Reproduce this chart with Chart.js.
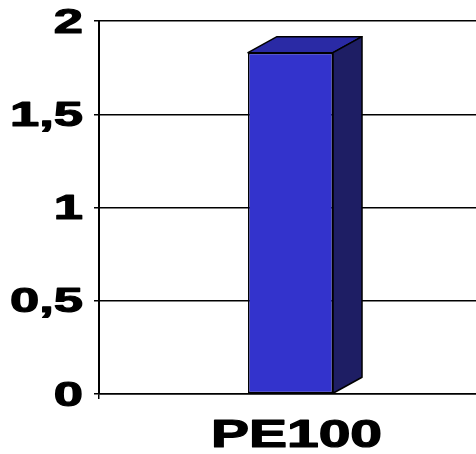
<!DOCTYPE html>
<html>
<head>
<meta charset="utf-8">
<script src="https://cdn.jsdelivr.net/npm/chart.js@4/dist/chart.umd.min.js"></script>
<style>
  html, body { margin: 0; padding: 0; background: #fff; overflow: hidden; }
  #wrap { width: 482px; height: 454px; position: relative; }
</style>
</head>
<body>
<div id="wrap"><canvas id="c"></canvas></div>
<script>
// Chart data
const categories = ['PE100'];
const values = [1.83];
const yTickValues = [0, 0.5, 1, 1.5, 2];
const yTickLabels = ['0', '0,5', '1', '1,5', '2'];

const FRONT = 'rgb(51,51,204)';
const TOP = 'rgb(42,42,165)';
const SIDE = 'rgb(30,30,100)';
const DEPTH_X = 29, DEPTH_Y = 16;
const STRETCH = 1.5;

// Extruded look: top and side faces added behind each bar's front face
const bar3d = {
  id: 'bar3d',
  afterDatasetsDraw(chart) {
    const ctx = chart.ctx;
    chart.getDatasetMeta(0).data.forEach(bar => {
      const l = bar.x - bar.width / 2, r = bar.x + bar.width / 2;
      const t = bar.y, b = bar.base;
      ctx.save();
      ctx.lineWidth = 1.5;
      ctx.strokeStyle = '#000';
      ctx.lineJoin = 'round';
      ctx.beginPath();
      ctx.moveTo(l, t); ctx.lineTo(l + DEPTH_X, t - DEPTH_Y);
      ctx.lineTo(r + DEPTH_X, t - DEPTH_Y); ctx.lineTo(r, t); ctx.closePath();
      ctx.fillStyle = TOP; ctx.fill(); ctx.stroke();
      ctx.beginPath();
      ctx.moveTo(r, t); ctx.lineTo(r + DEPTH_X, t - DEPTH_Y);
      ctx.lineTo(r + DEPTH_X, b - DEPTH_Y); ctx.lineTo(r, b); ctx.closePath();
      ctx.fillStyle = SIDE; ctx.fill(); ctx.stroke();
      ctx.restore();
    });
  }
};

// Wide, heavy bold labels, placed from the scales' own pixel positions
function heavyText(ctx, text) {
  ctx.fillText(text, 0, 0);
  ctx.strokeText(text, 0, 0);
}

const wideLabels = {
  id: 'wideLabels',
  afterDraw(chart) {
    const ctx = chart.ctx;
    const ys = chart.scales.y, xs = chart.scales.x;
    ctx.save();
    ctx.fillStyle = '#000';
    ctx.strokeStyle = '#000';
    ctx.lineWidth = 1.2;
    ctx.lineJoin = 'round';
    ctx.font = 'bold 35px "Liberation Sans", Arial, sans-serif';
    ctx.textAlign = 'right';
    ctx.textBaseline = 'middle';
    yTickValues.forEach((v, i) => {
      ctx.save();
      ctx.translate(ys.left - 11, ys.getPixelForValue(v) + 2);
      ctx.scale(STRETCH, 1);
      heavyText(ctx, yTickLabels[i]);
      ctx.restore();
    });
    ctx.font = 'bold 38px "Liberation Sans", Arial, sans-serif';
    ctx.textAlign = 'center';
    ctx.textBaseline = 'alphabetic';
    categories.forEach((c, i) => {
      ctx.save();
      ctx.translate(xs.getPixelForTick(i) + 6, 447);
      ctx.scale(STRETCH, 1);
      heavyText(ctx, c);
      ctx.restore();
    });
    ctx.restore();
  }
};

new Chart(document.getElementById('c'), {
  type: 'bar',
  data: {
    labels: categories,
    datasets: [{
      data: values,
      backgroundColor: FRONT,
      borderColor: '#000',
      borderWidth: 1.5,
      borderSkipped: false,
      barPercentage: 0.222,
      categoryPercentage: 1
    }]
  },
  options: {
    responsive: true,
    maintainAspectRatio: false,
    animation: false,
    layout: { padding: { left: 94, top: 21, right: 0, bottom: 55 } },
    plugins: { legend: { display: false }, tooltip: { enabled: false } },
    scales: {
      x: {
        offset: true,
        grid: { offset: true, drawOnChartArea: false, drawTicks: true, tickLength: 5, color: '#000', lineWidth: 1.5 },
        border: { color: '#000', width: 1.5 },
        ticks: { display: false }
      },
      y: {
        min: 0, max: 2,
        afterBuildTicks(scale) { scale.ticks = yTickValues.map(v => ({ value: v })); },
        grid: { color: '#000', lineWidth: 1.5, drawTicks: true, tickLength: 5 },
        border: { color: '#000', width: 2 },
        ticks: { display: false }
      }
    }
  },
  plugins: [bar3d, wideLabels]
});
</script>
</body>
</html>
